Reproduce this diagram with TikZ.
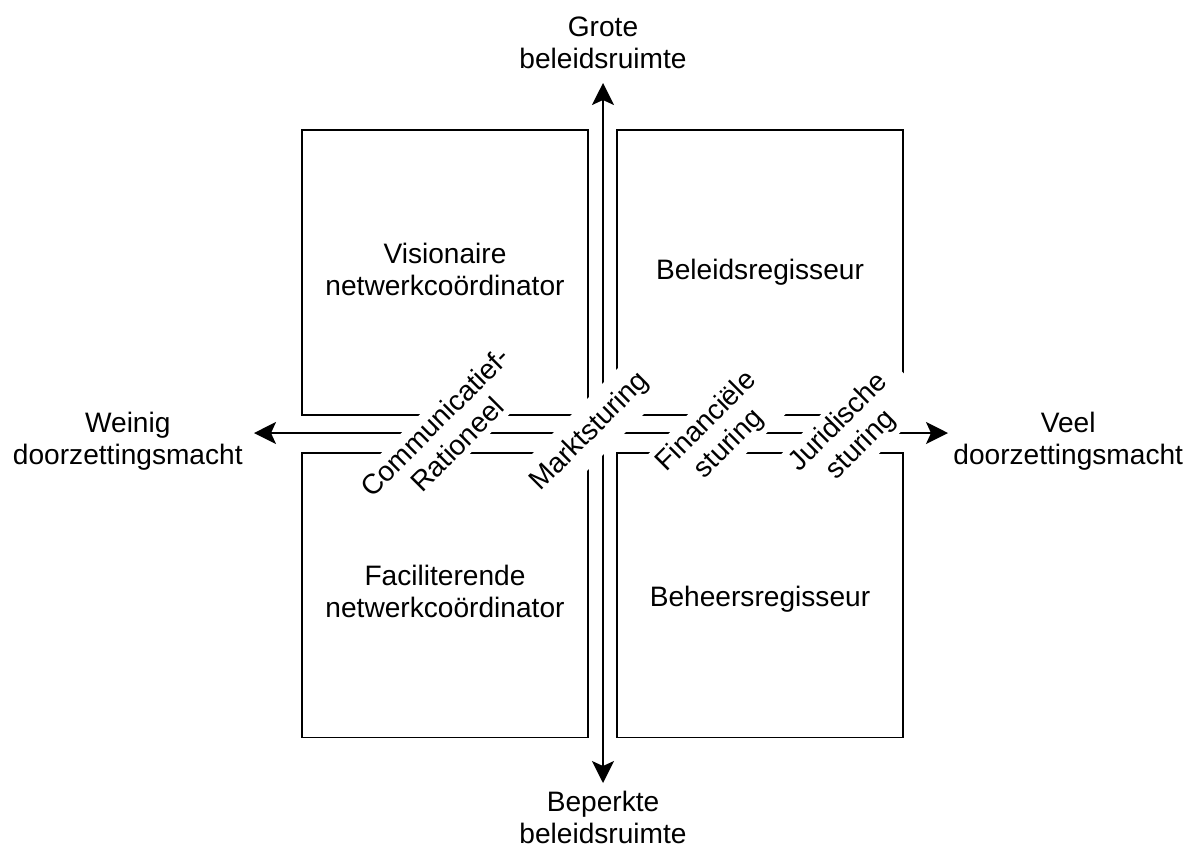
\documentclass[tikz,border=0pt]{standalone}
\usepackage{fontspec}
\setmainfont{Liberation Sans}
\usetikzlibrary{arrows.meta,positioning}

\begin{document}
\begin{tikzpicture}[x=0.02cm,y=-0.02cm,
        font=\fontsize{16pt}{18.2pt}\selectfont,
        quadrant/.style={draw,line width=1.1pt,minimum width=5.72cm,minimum height=5.7cm,align=center,text depth=0.4em,inner sep=0pt},
        axislabel/.style={align=center,inner sep=0pt},
        cutlabel/.style={fill=white,rotate=45,align=center,inner sep=3pt},
        axis/.style={line width=1.1pt,{Stealth[length=4.4mm,width=4.4mm,inset=1mm]}-{Stealth[length=4.4mm,width=4.4mm,inset=1mm]}}]

    \useasboundingbox (0,0) rectangle (1195,850);

    % kwadranten
    \node[quadrant] (visionair) at (445,272.5) {Visionaire\\netwerkcoördinator};
    \node[quadrant] (beleid)    at (760,272.5) {Beleidsregisseur};
    \node[quadrant] (facil)     at (445,595)   {Faciliterende\\netwerkcoördinator};
    \node[quadrant,text height=1.5em,text depth=0.2em] (beheer) at (760,595) {Beheersregisseur};

    % assen
    \coordinate (boven)  at (603,83);
    \coordinate (onder)  at (603,783);
    \coordinate (links)  at (254,433);
    \coordinate (rechts) at (948,433);
    \draw[axis] (onder) -- (boven);
    \draw[axis] (links) -- (rechts);

    \node[axislabel,above=0.28cm of boven] (grote)   {Grote\\beleidsruimte};
    \node[axislabel,below=0.16cm of onder] (beperkt) {Beperkte\\beleidsruimte};
    \node[axislabel,anchor=east] (weinig) at (243,441) {Weinig\\doorzettingsmacht};
    \node[axislabel,anchor=west] (veel)   at (953,441) {Veel\\doorzettingsmacht};

    % sturingsvormen
    \node[cutlabel] (communicatief) at (446,433) {Communicatief-\\Rationeel};
    \node[cutlabel,inner ysep=7pt] (markt) at (590,432) {Marktsturing};
    \node[cutlabel] (financieel) at (718,433) {Financiële\\sturing};
    \node[cutlabel,inner xsep=10pt] (juridisch) at (850,434) {Juridische\\sturing};

\end{tikzpicture}
\end{document}
